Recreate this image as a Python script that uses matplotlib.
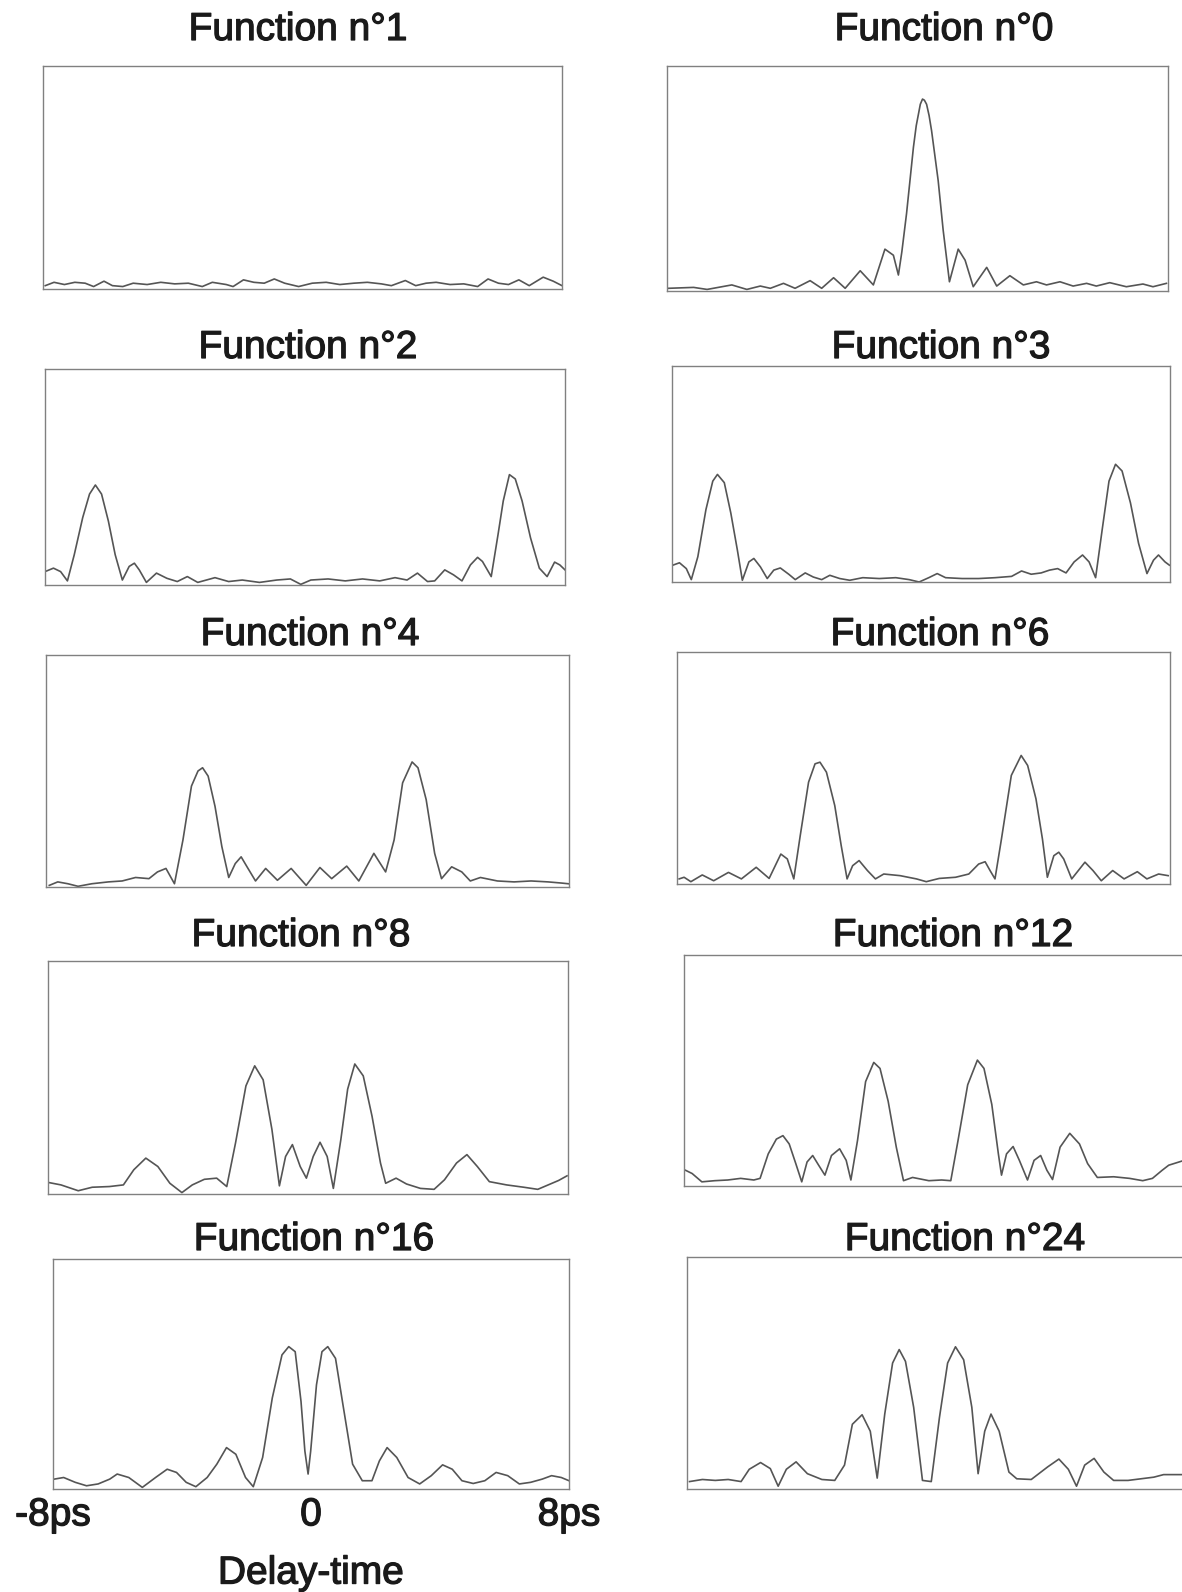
import matplotlib.pyplot as plt
import matplotlib.patheffects as pe

# delay (ps) and normalised amplitude
t_f1 = [-7.93, -7.66, -7.34, -7.02, -6.70, -6.44, -6.12, -5.86, -5.54, -5.22, -4.79, -4.37, -3.94, -3.52,
        -3.09, -2.78, -2.35, -2.14, -1.82, -1.50, -1.18, -0.87, -0.55, -0.12, 0.30, 0.73, 1.15, 1.58, 2.00,
        2.43, 2.74, 3.17, 3.49, 3.81, 4.12, 4.55, 4.97, 5.40, 5.72, 6.04, 6.35, 6.67, 6.99, 7.42, 7.73, 8.00]
a_f1 = [0.015, 0.030, 0.020, 0.030, 0.026, 0.011, 0.035, 0.015, 0.011, 0.026, 0.020, 0.030, 0.023, 0.026,
        0.011, 0.030, 0.020, 0.011, 0.041, 0.030, 0.026, 0.045, 0.026, 0.011, 0.026, 0.030, 0.020, 0.026, 0.030,
        0.023, 0.015, 0.038, 0.015, 0.026, 0.030, 0.020, 0.023, 0.011, 0.045, 0.026, 0.020, 0.041, 0.015, 0.053,
        0.035, 0.015]

t_f0 = [-7.95, -7.15, -6.72, -5.93, -5.45, -5.02, -4.70, -4.28, -3.91, -3.43, -3.06, -2.68, -2.31, -1.83,
        -1.41, -1.04, -0.77, -0.61, -0.50, -0.35, -0.13, -0.04, 0.03, 0.09, 0.16, 0.22, 0.29, 0.37, 0.45, 0.66,
        0.82, 1.02, 1.30, 1.52, 1.78, 2.21, 2.53, 2.95, 3.38, 3.80, 4.12, 4.55, 4.97, 5.40, 5.71, 6.14, 6.67,
        7.20, 7.52, 7.95]
a_f0 = [0.012, 0.016, 0.007, 0.027, 0.007, 0.022, 0.012, 0.034, 0.012, 0.046, 0.012, 0.059, 0.012, 0.090,
        0.027, 0.186, 0.159, 0.071, 0.174, 0.344, 0.639, 0.735, 0.786, 0.830, 0.853, 0.848, 0.830, 0.780, 0.712,
        0.491, 0.270, 0.041, 0.186, 0.137, 0.019, 0.105, 0.022, 0.068, 0.027, 0.041, 0.027, 0.041, 0.022, 0.034,
        0.022, 0.037, 0.019, 0.031, 0.019, 0.034]

t_f2 = [-7.95, -7.74, -7.52, -7.31, -7.10, -6.84, -6.63, -6.45, -6.26, -6.05, -5.84, -5.62, -5.41, -5.25,
        -5.10, -4.88, -4.57, -4.25, -3.93, -3.62, -3.30, -2.77, -2.35, -1.93, -1.40, -0.87, -0.45, -0.13, 0.18,
        0.71, 1.24, 1.77, 2.30, 2.77, 3.14, 3.46, 3.77, 3.99, 4.30, 4.57, 4.83, 5.09, 5.31, 5.46, 5.73, 5.94,
        6.10, 6.29, 6.47, 6.68, 6.94, 7.21, 7.45, 7.68, 7.84, 8.00]
a_f2 = [0.065, 0.078, 0.062, 0.019, 0.140, 0.312, 0.421, 0.463, 0.421, 0.296, 0.140, 0.023, 0.086, 0.101,
        0.070, 0.012, 0.055, 0.031, 0.016, 0.039, 0.012, 0.034, 0.016, 0.023, 0.012, 0.023, 0.028, 0.003, 0.023,
        0.028, 0.019, 0.028, 0.019, 0.034, 0.023, 0.055, 0.016, 0.019, 0.070, 0.047, 0.019, 0.093, 0.128, 0.109,
        0.039, 0.234, 0.389, 0.511, 0.491, 0.389, 0.218, 0.078, 0.039, 0.106, 0.093, 0.070]

t_f3 = [-7.97, -7.76, -7.54, -7.38, -7.17, -6.91, -6.69, -6.54, -6.32, -6.11, -5.90, -5.74, -5.53, -5.37,
        -5.16, -4.94, -4.73, -4.52, -4.25, -4.04, -3.72, -3.46, -3.19, -2.93, -2.61, -2.29, -1.87, -1.34, -0.81,
        -0.38, -0.06, 0.25, 0.52, 0.79, 1.32, 1.85, 2.38, 2.91, 3.23, 3.54, 3.86, 4.13, 4.39, 4.66, 4.92, 5.19,
        5.40, 5.61, 5.82, 6.04, 6.25, 6.46, 6.73, 6.99, 7.26, 7.47, 7.63, 7.84, 7.98]
a_f3 = [0.078, 0.089, 0.062, 0.011, 0.117, 0.335, 0.467, 0.498, 0.460, 0.319, 0.148, 0.008, 0.093, 0.109,
        0.070, 0.016, 0.055, 0.065, 0.036, 0.011, 0.042, 0.023, 0.011, 0.031, 0.016, 0.008, 0.020, 0.016, 0.020,
        0.011, 0.000, 0.020, 0.039, 0.020, 0.016, 0.016, 0.020, 0.026, 0.051, 0.036, 0.042, 0.055, 0.062, 0.042,
        0.093, 0.125, 0.093, 0.020, 0.241, 0.467, 0.545, 0.514, 0.366, 0.179, 0.039, 0.101, 0.125, 0.093, 0.078]

t_f4 = [-7.90, -7.64, -7.33, -7.02, -6.60, -6.09, -5.67, -5.26, -4.85, -4.59, -4.33, -4.07, -3.81, -3.55,
        -3.35, -3.21, -3.04, -2.83, -2.62, -2.41, -2.21, -2.03, -1.85, -1.59, -1.28, -0.92, -0.50, -0.04, 0.38,
        0.74, 1.20, 1.57, 2.03, 2.39, 2.65, 2.91, 3.20, 3.38, 3.63, 3.89, 4.10, 4.41, 4.72, 4.98, 5.29, 5.81,
        6.32, 6.84, 7.36, 7.77, 7.98]
a_f4 = [0.007, 0.022, 0.014, 0.003, 0.014, 0.022, 0.026, 0.041, 0.036, 0.065, 0.080, 0.014, 0.203, 0.435,
        0.500, 0.514, 0.478, 0.348, 0.174, 0.041, 0.101, 0.130, 0.087, 0.026, 0.080, 0.029, 0.080, 0.007, 0.084,
        0.036, 0.090, 0.026, 0.145, 0.065, 0.203, 0.449, 0.539, 0.514, 0.377, 0.145, 0.036, 0.087, 0.065, 0.026,
        0.041, 0.026, 0.022, 0.026, 0.022, 0.017, 0.014]

t_f6 = [-7.93, -7.77, -7.55, -7.18, -6.81, -6.33, -5.91, -5.43, -5.01, -4.63, -4.42, -4.21, -4.00, -3.73,
        -3.52, -3.36, -3.15, -2.88, -2.67, -2.48, -2.30, -2.09, -1.82, -1.56, -1.29, -0.76, -0.23, 0.09, 0.51,
        1.04, 1.47, 1.79, 2.00, 2.16, 2.32, 2.53, 2.85, 3.17, 3.38, 3.65, 3.86, 4.02, 4.23, 4.39, 4.55, 4.81,
        5.24, 5.50, 5.77, 6.14, 6.51, 6.94, 7.25, 7.63, 7.94]
a_f6 = [0.022, 0.029, 0.010, 0.039, 0.014, 0.050, 0.022, 0.072, 0.024, 0.129, 0.108, 0.022, 0.209, 0.439,
        0.518, 0.525, 0.482, 0.338, 0.165, 0.022, 0.079, 0.101, 0.058, 0.022, 0.043, 0.036, 0.022, 0.010, 0.024,
        0.029, 0.043, 0.086, 0.096, 0.058, 0.022, 0.194, 0.468, 0.554, 0.511, 0.367, 0.194, 0.029, 0.122, 0.137,
        0.108, 0.022, 0.094, 0.058, 0.014, 0.058, 0.022, 0.053, 0.022, 0.043, 0.036]

t_f8 = [-7.97, -7.60, -7.07, -6.64, -6.11, -5.68, -5.36, -4.99, -4.62, -4.25, -3.88, -3.56, -3.19, -2.81,
        -2.50, -2.23, -1.91, -1.64, -1.38, -1.11, -0.88, -0.69, -0.48, -0.24, -0.05, 0.16, 0.37, 0.59, 0.78,
        1.01, 1.22, 1.44, 1.70, 1.97, 2.23, 2.39, 2.71, 3.03, 3.46, 3.88, 4.20, 4.57, 4.89, 5.21, 5.58, 6.11,
        6.64, 7.07, 7.39, 7.71, 7.97]
a_f8 = [0.049, 0.039, 0.014, 0.029, 0.032, 0.039, 0.104, 0.154, 0.118, 0.046, 0.006, 0.039, 0.063, 0.068,
        0.032, 0.219, 0.464, 0.550, 0.490, 0.277, 0.035, 0.161, 0.212, 0.118, 0.068, 0.161, 0.222, 0.161, 0.024,
        0.233, 0.450, 0.558, 0.507, 0.334, 0.133, 0.046, 0.068, 0.043, 0.024, 0.020, 0.061, 0.133, 0.169, 0.118,
        0.053, 0.039, 0.029, 0.020, 0.039, 0.058, 0.078]

t_f12 = [-7.95, -7.74, -7.43, -7.02, -6.60, -6.19, -5.77, -5.57, -5.31, -5.05, -4.84, -4.64, -4.43, -4.24,
         -4.07, -3.89, -3.70, -3.50, -3.29, -3.03, -2.82, -2.67, -2.46, -2.20, -1.94, -1.74, -1.48, -1.22, -0.99,
         -0.70, -0.18, 0.23, 0.52, 0.75, 1.06, 1.37, 1.58, 1.83, 2.04, 2.14, 2.30, 2.51, 2.71, 2.97, 3.18, 3.39,
         3.59, 3.77, 4.01, 4.32, 4.63, 4.89, 5.20, 5.72, 6.23, 6.65, 6.96, 7.27, 7.48, 7.95]
a_f12 = [0.068, 0.054, 0.018, 0.023, 0.026, 0.033, 0.026, 0.033, 0.139, 0.203, 0.218, 0.182, 0.097, 0.018,
         0.104, 0.132, 0.090, 0.047, 0.132, 0.161, 0.111, 0.026, 0.196, 0.452, 0.535, 0.509, 0.367, 0.168, 0.023,
         0.037, 0.023, 0.026, 0.023, 0.196, 0.438, 0.545, 0.509, 0.353, 0.139, 0.047, 0.139, 0.171, 0.111, 0.026,
         0.111, 0.132, 0.068, 0.028, 0.168, 0.228, 0.182, 0.097, 0.037, 0.040, 0.033, 0.023, 0.033, 0.068, 0.090,
         0.110]

t_f16 = [-7.96, -7.67, -7.31, -6.96, -6.60, -6.24, -6.01, -5.65, -5.23, -4.82, -4.46, -4.17, -3.87, -3.57,
         -3.22, -2.92, -2.62, -2.33, -2.03, -1.79, -1.50, -1.20, -0.90, -0.69, -0.49, -0.31, -0.19, -0.09, -0.01,
         0.17, 0.34, 0.52, 0.76, 0.99, 1.29, 1.59, 1.89, 2.12, 2.36, 2.66, 3.01, 3.37, 3.73, 4.08, 4.38, 4.68,
         5.03, 5.39, 5.74, 6.10, 6.46, 6.81, 7.17, 7.46, 7.76, 8.00]
a_f16 = [0.043, 0.050, 0.029, 0.014, 0.022, 0.043, 0.065, 0.050, 0.007, 0.050, 0.086, 0.072, 0.029, 0.010,
         0.050, 0.108, 0.180, 0.151, 0.050, 0.010, 0.137, 0.396, 0.583, 0.619, 0.597, 0.381, 0.165, 0.065, 0.165,
         0.453, 0.597, 0.619, 0.568, 0.367, 0.108, 0.036, 0.036, 0.122, 0.180, 0.137, 0.050, 0.022, 0.058, 0.105,
         0.086, 0.036, 0.024, 0.036, 0.072, 0.058, 0.022, 0.029, 0.043, 0.058, 0.050, 0.036]

t_f24 = [-7.92, -7.51, -7.10, -6.69, -6.28, -6.02, -5.66, -5.35, -5.10, -4.84, -4.53, -4.17, -3.71, -3.30,
         -2.99, -2.74, -2.43, -2.17, -1.95, -1.71, -1.46, -1.25, -1.05, -0.79, -0.51, -0.23, 0.03, 0.29, 0.54,
         0.80, 1.06, 1.26, 1.47, 1.67, 1.93, 2.24, 2.49, 2.95, 3.47, 3.83, 4.13, 4.39, 4.65, 4.95, 5.26, 5.57,
         6.03, 6.44, 6.85, 7.16, 7.77]
a_f24 = [0.032, 0.041, 0.037, 0.041, 0.032, 0.085, 0.114, 0.088, 0.012, 0.085, 0.117, 0.066, 0.041, 0.037,
         0.103, 0.279, 0.320, 0.249, 0.047, 0.323, 0.543, 0.601, 0.550, 0.352, 0.037, 0.032, 0.308, 0.543, 0.613,
         0.557, 0.352, 0.066, 0.249, 0.323, 0.249, 0.073, 0.044, 0.041, 0.095, 0.129, 0.085, 0.012, 0.103, 0.132,
         0.073, 0.037, 0.037, 0.044, 0.051, 0.062, 0.062]

panels = [
    ("Function n°1", t_f1, a_f1), ("Function n°0", t_f0, a_f0),
    ("Function n°2", t_f2, a_f2), ("Function n°3", t_f3, a_f3),
    ("Function n°4", t_f4, a_f4), ("Function n°6", t_f6, a_f6),
    ("Function n°8", t_f8, a_f8), ("Function n°12", t_f12, a_f12),
    ("Function n°16", t_f16, a_f16), ("Function n°24", t_f24, a_f24),
]

# panel boxes in pixels (left, top, right, bottom) and title centres, scan is slightly skewed
W, H = 1182, 1592
boxes = [
    (43, 66, 562, 289), (667, 66, 1168, 291),
    (45, 369, 565, 585), (672, 366, 1170, 582),
    (46, 655, 569, 887), (677, 652, 1170, 884),
    (48, 961, 568, 1194), (684, 955, 1185, 1186),
    (53, 1259, 569, 1489), (687, 1257, 1190, 1489),
]
title_pos = [(298, 30), (944, 30), (308, 348), (941, 348), (310, 635),
             (940, 635), (301, 936), (953, 936), (314, 1240), (965, 1240)]

plt.rcParams['font.family'] = ['Liberation Sans', 'DejaVu Sans']
ink = '#1a1a1a'
bold_fx = [pe.withStroke(linewidth=0.9, foreground=ink)]

fig = plt.figure(figsize=(W / 100, H / 100), dpi=100)
fig.patch.set_facecolor('white')

axes = []
for (title, t, a), (l, tp, r, b), (tx, ty) in zip(panels, boxes, title_pos):
    ax = fig.add_axes([l / W, 1 - b / H, (r - l) / W, (b - tp) / H])
    ax.plot(t, a, color='#555555', lw=1.2)
    ax.set_xlim(-8, 8)
    ax.set_ylim(0, 1)
    ax.set_xticks([])
    ax.set_yticks([])
    for s in ax.spines.values():
        s.set_color('#808080')
        s.set_linewidth(1.0)
    fig.text(tx / W, 1 - ty / H, title, ha='center', va='center', fontsize=28, color=ink,
             path_effects=bold_fx)
    axes.append(ax)

# delay-time axis only on the bottom-left panel
ax = axes[8]
ax.set_xticks([-8, 0, 8])
ax.set_xticklabels(['-8ps', '0', '8ps'], fontsize=28, color=ink)
for lab in ax.get_xticklabels():
    lab.set_path_effects(bold_fx)
ax.tick_params(axis='x', length=0, pad=6)
ax.set_xlabel('Delay-time', fontsize=28, color=ink, labelpad=16, path_effects=bold_fx)

fig.savefig('out.png', dpi=100)
